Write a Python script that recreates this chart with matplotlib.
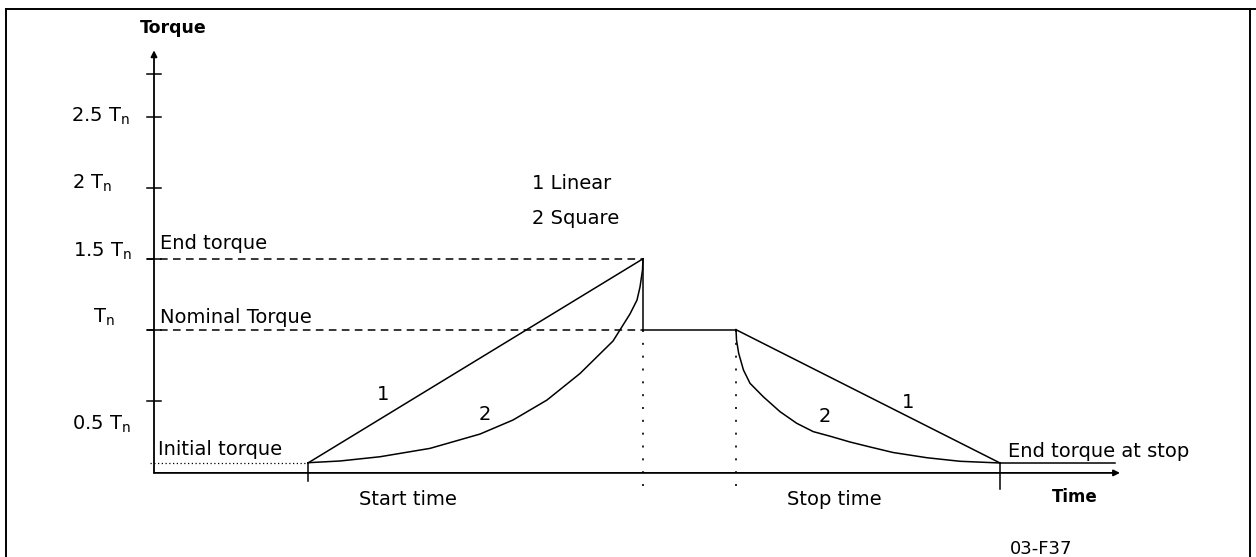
import numpy as np
import matplotlib
matplotlib.use("Agg")
from matplotlib import pyplot as plt
from matplotlib.lines import Line2D

# time axis in arbitrary units, torque in units of nominal torque Tn
t_start = 1.54          # soft start begins
t_ramp_end = 4.89       # end of start ramp
t_stop = 5.82           # soft stop begins
t_end = 8.46            # end of stop ramp
t_axis_end = 9.66

T_init = 0.06           # initial torque
T_end = 1.5             # end torque of start ramp
T_nom = 1.0             # nominal torque
T_stop = 0.06           # end torque at stop
T_axis_top = 2.97

ytick_vals = [0.5, 1.0, 1.5, 2.0, 2.5, 2.8]
ytick_labels = ["0.5 T$_\\mathregular{n}$", "T$_\\mathregular{n}$", "1.5 T$_\\mathregular{n}$",
                "2 T$_\\mathregular{n}$", "2.5 T$_\\mathregular{n}$", ""]

# square start ramp
sq_start_t = [1.54, 1.86, 2.26, 2.76, 3.26, 3.59, 3.93, 4.26, 4.59, 4.76, 4.83, 4.86, 4.885, 4.89]
sq_start_T = [0.062, 0.074, 0.104, 0.163, 0.264, 0.363, 0.504, 0.691, 0.920, 1.111, 1.209,
              1.301, 1.421, 1.50]

# square stop ramp
sq_stop_t = [5.82, 5.825, 5.847, 5.895, 5.96, 6.093, 6.26, 6.427, 6.593, 6.76, 6.96, 7.16,
             7.39, 7.73, 8.06, 8.46]
sq_stop_T = [1.0, 0.927, 0.833, 0.715, 0.622, 0.527, 0.422, 0.340, 0.281, 0.249, 0.208, 0.173,
             0.134, 0.097, 0.072, 0.06]

FS = 14
LW = 1.1

fig = plt.figure(figsize=(12.56, 5.57), dpi=100)
ax = fig.add_axes([0, 0, 1, 1])
ax.set_xlim(-1.54, 11.02)
ax.set_ylim(-0.603, 3.325)
ax.axis("off")

# frame round the figure
for xs, ys in [([0.005, 0.005], [0.0, 0.984]), ([0.005, 1.0], [0.984, 0.984]),
               ([0.995, 0.995], [0.0, 0.984])]:
    fig.add_artist(Line2D(xs, ys, color="black", lw=1.4, transform=fig.transFigure))

# axes with arrows
ax.annotate("", xy=(0, T_axis_top), xytext=(0, -0.01),
            arrowprops=dict(arrowstyle="-|>", color="black", lw=1.3, mutation_scale=9,
                            shrinkA=0, shrinkB=0))
ax.annotate("", xy=(t_axis_end, -0.01), xytext=(0, -0.01),
            arrowprops=dict(arrowstyle="-|>", color="black", lw=1.3, mutation_scale=9,
                            shrinkA=0, shrinkB=0))

# y ticks
for v in ytick_vals:
    ax.plot([-0.07, 0.07], [v, v], color="black", lw=LW)
label_pos = {0.5: (-0.82, 0.292), 1.0: (-0.61, 1.047), 1.5: (-0.81, 1.512),
             2.0: (-0.82, 1.992), 2.5: (-0.83, 2.465)}
for v, lab in zip(ytick_vals, ytick_labels):
    if lab:
        x, y = label_pos[v]
        ax.text(x, y, lab, fontsize=FS, ha="left", va="baseline")

ax.text(0.19, 3.128, "Torque", fontsize=12.5, fontweight="bold", ha="center", va="center")

# reference lines
ax.plot([-0.07, t_ramp_end], [T_end, T_end], color="black", lw=LW, dashes=(5, 3.5))
ax.plot([-0.07, t_ramp_end], [T_nom, T_nom], color="black", lw=LW, dashes=(5, 3.5))
ax.plot([-0.04, t_start], [T_init, T_init], color="black", lw=0.9, dashes=(1, 2))
for t in (t_ramp_end, t_stop):
    ax.plot([t, t], [T_nom, -0.13], color="black", lw=1.2, dashes=(1.2, 6.5))

# start / stop ticks on the time axis
ax.plot([t_start, t_start], [T_init, -0.07], color="black", lw=LW)
ax.plot([t_end, t_end], [T_stop, -0.12], color="black", lw=LW)

# 1: linear ramps
ax.plot([t_start, t_ramp_end], [T_init, T_end], color="black", lw=LW)
ax.plot([t_stop, t_end], [T_nom, T_stop], color="black", lw=LW)
# 2: square ramps
ax.plot(sq_start_t, sq_start_T, color="black", lw=LW, solid_joinstyle="round")
ax.plot(sq_stop_t, sq_stop_T, color="black", lw=LW, solid_joinstyle="round")
# drop to nominal torque, running, end torque after stop
ax.plot([t_ramp_end, t_ramp_end, t_stop], [T_end, T_nom, T_nom], color="black", lw=LW)
ax.plot([t_end, 9.61], [T_stop, T_stop], color="black", lw=LW)

# labels
ax.text(0.06, 1.569, "End torque", fontsize=FS, ha="left", va="baseline")
ax.text(0.06, 1.05, "Nominal Torque", fontsize=FS, ha="left", va="baseline")
ax.text(0.04, 0.116, "Initial torque", fontsize=FS, ha="left", va="baseline")
ax.text(3.78, 1.99, "1 Linear", fontsize=FS, ha="left", va="baseline")
ax.text(3.78, 1.745, "2 Square", fontsize=FS, ha="left", va="baseline")
ax.text(2.29, 0.504, "1", fontsize=FS, ha="center", va="baseline")
ax.text(3.31, 0.363, "2", fontsize=FS, ha="center", va="baseline")
ax.text(6.71, 0.349, "2", fontsize=FS, ha="center", va="baseline")
ax.text(7.54, 0.448, "1", fontsize=FS, ha="center", va="baseline")
ax.text(8.54, 0.10, "End torque at stop", fontsize=FS, ha="left", va="baseline")
ax.text(2.54, -0.235, "Start time", fontsize=FS, ha="center", va="baseline")
ax.text(6.80, -0.235, "Stop time", fontsize=FS, ha="center", va="baseline")
ax.text(9.21, -0.215, "Time", fontsize=12, fontweight="bold", ha="center", va="baseline")
ax.text(8.56, -0.58, "03-F37", fontsize=13, ha="left", va="baseline")

fig.savefig("out.png", dpi=100)
